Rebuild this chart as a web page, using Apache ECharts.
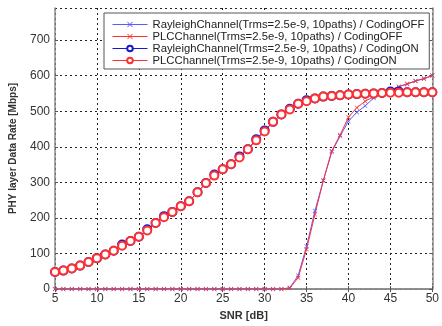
<!DOCTYPE html>
<html>
<head>
<meta charset="utf-8">
<script src="https://cdn.jsdelivr.net/npm/echarts@6/dist/echarts.min.js"></script>
<style>
  html, body { margin: 0; padding: 0; background: #fff; }
  #chart { width: 442px; height: 326px; }
</style>
</head>
<body>
<div id="chart"></div>
<script>
// SNR [dB]
const snr = [5, 6, 7, 8, 9, 10, 11, 12, 13, 14, 15, 16, 17, 18, 19, 20, 21, 22, 23, 24, 25, 26, 27,
  28, 29, 30, 31, 32, 33, 34, 35, 36, 37, 38, 39, 40, 41, 42, 43, 44, 45, 46, 47, 48, 49, 50];

// PHY layer data rate [Mbps]
const rayleighOff = [0, 0, 0, 0, 0, 0, 0, 0, 0, 0, 0, 0, 0, 0, 0, 0, 0, 0, 0, 0, 0, 0, 0,
  0, 0, 0, 0, 0, 4, 38, 120, 220, 305, 385, 430, 472, 497, 515, 537, 550, 558, 569, 576, 585, 591, 600];
const plcOff = [0, 0, 0, 0, 0, 0, 0, 0, 0, 0, 0, 0, 0, 0, 0, 0, 0, 0, 0, 0, 0, 0, 0,
  0, 0, 0, 0, 0, 3, 32, 112, 210, 305, 388, 433, 483, 510, 528, 541, 553, 560, 569, 577, 585, 592, 600];
const rayleighOn = [48, 52, 58, 66, 76, 87, 97, 108, 125, 135, 147, 168, 186, 205, 217, 233, 247, 272, 298, 322, 337, 351, 373,
  393, 421, 446, 470, 491, 507, 521, 531, 536, 541, 543, 545, 547, 548, 549, 550, 551, 555, 555, 553, 553, 553, 553];
const plcOn = [48, 52, 58, 66, 76, 87, 97, 108, 122, 135, 147, 165, 186, 202, 217, 233, 247, 272, 298, 319, 337, 351, 370,
  393, 418, 443, 470, 491, 505, 521, 528, 536, 541, 543, 545, 547, 548, 549, 550, 551, 552, 552, 553, 553, 553, 553];

const legendNames = [
  "RayleighChannel(Trms=2.5e-9, 10paths) / CodingOFF",
  "PLCChannel(Trms=2.5e-9, 10paths) / CodingOFF",
  "RayleighChannel(Trms=2.5e-9, 10paths) / CodingON",
  "PLCChannel(Trms=2.5e-9, 10paths) / CodingON",
];

const crossSymbol = "path://M1,0L5,4L9,0L10,1L6,5L10,9L9,10L5,6L1,10L0,9L4,5L0,1Z";

function pairs(values) {
  return snr.map((x, i) => [x, values[i]]);
}

function makeSeries(name, values, color, symbol, size, border) {
  return {
    name: name,
    type: "line",
    data: pairs(values),
    symbol: symbol,
    symbolSize: size,
    showAllSymbol: true,
    lineStyle: { width: 1, color: color },
    itemStyle: { color: color, borderColor: color, borderWidth: border },
    emphasis: { disabled: true },
    animation: false,
  };
}

const gridLine = { show: true, lineStyle: { color: "#222", type: [2, 3], width: 1 } };
const frameLine = { show: true, lineStyle: { color: "#888", width: 1.5 } };
const labelStyle = { color: "#333", fontSize: 12, fontFamily: "Liberation Sans" };

const chart = echarts.init(document.getElementById("chart"));
chart.setOption({
  backgroundColor: "#fff",
  animation: false,
  grid: { left: 51, right: 4, top: 8, bottom: 27, containLabel: false },
  legend: {
    orient: "vertical",
    left: 104,
    top: 13,
    padding: [6, 5, 3, 8],
    itemWidth: 35,
    itemHeight: 7,
    itemGap: 1,
    backgroundColor: "#fff",
    borderColor: "#555",
    borderWidth: 1,
    borderRadius: 0,
    lineStyle: { width: 1 },
    textStyle: { color: "#222", fontSize: 11.3, fontFamily: "Liberation Sans" },
    data: legendNames,
  },
  xAxis: [
    {
      type: "value",
      min: 5,
      max: 50,
      interval: 5,
      name: "SNR [dB]",
      nameLocation: "middle",
      nameGap: 18,
      nameTextStyle: { color: "#333", fontSize: 11, fontWeight: "bold", fontFamily: "Liberation Sans" },
      axisLine: frameLine,
      axisTick: { show: true, inside: true, length: 3, lineStyle: { color: "#555" } },
      axisLabel: Object.assign({ margin: 4 }, labelStyle),
      splitLine: gridLine,
    },
    {
      type: "value",
      position: "top",
      min: 5,
      max: 50,
      interval: 5,
      axisLine: frameLine,
      axisTick: { show: true, inside: true, length: 3, lineStyle: { color: "#555" } },
      axisLabel: { show: false },
      splitLine: { show: false },
    },
  ],
  yAxis: [
    {
      type: "value",
      min: 0,
      max: 790,
      interval: 100,
      name: "PHY layer Data Rate [Mbps]",
      nameLocation: "middle",
      nameGap: 37,
      nameTextStyle: { color: "#333", fontSize: 10, fontWeight: "bold", fontFamily: "Liberation Sans" },
      axisLine: frameLine,
      axisTick: { show: true, inside: true, length: 3, lineStyle: { color: "#555" } },
      axisLabel: Object.assign({ margin: 5, showMaxLabel: false }, labelStyle),
      splitLine: gridLine,
    },
    {
      type: "value",
      position: "right",
      min: 0,
      max: 790,
      interval: 100,
      axisLine: frameLine,
      axisTick: { show: true, inside: true, length: 3, lineStyle: { color: "#555" } },
      axisLabel: { show: false },
      splitLine: { show: false },
    },
  ],
  series: [
    makeSeries(legendNames[0], rayleighOff, "#5a5aff", crossSymbol, 4.5, 0),
    makeSeries(legendNames[1], plcOff, "#ff3030", crossSymbol, 4.5, 0),
    makeSeries(legendNames[2], rayleighOn, "#1818d0", "emptyCircle", 8, 1),
    makeSeries(legendNames[3], plcOn, "#ff3030", "emptyCircle", 8, 1),
  ],
});
</script>
</body>
</html>
